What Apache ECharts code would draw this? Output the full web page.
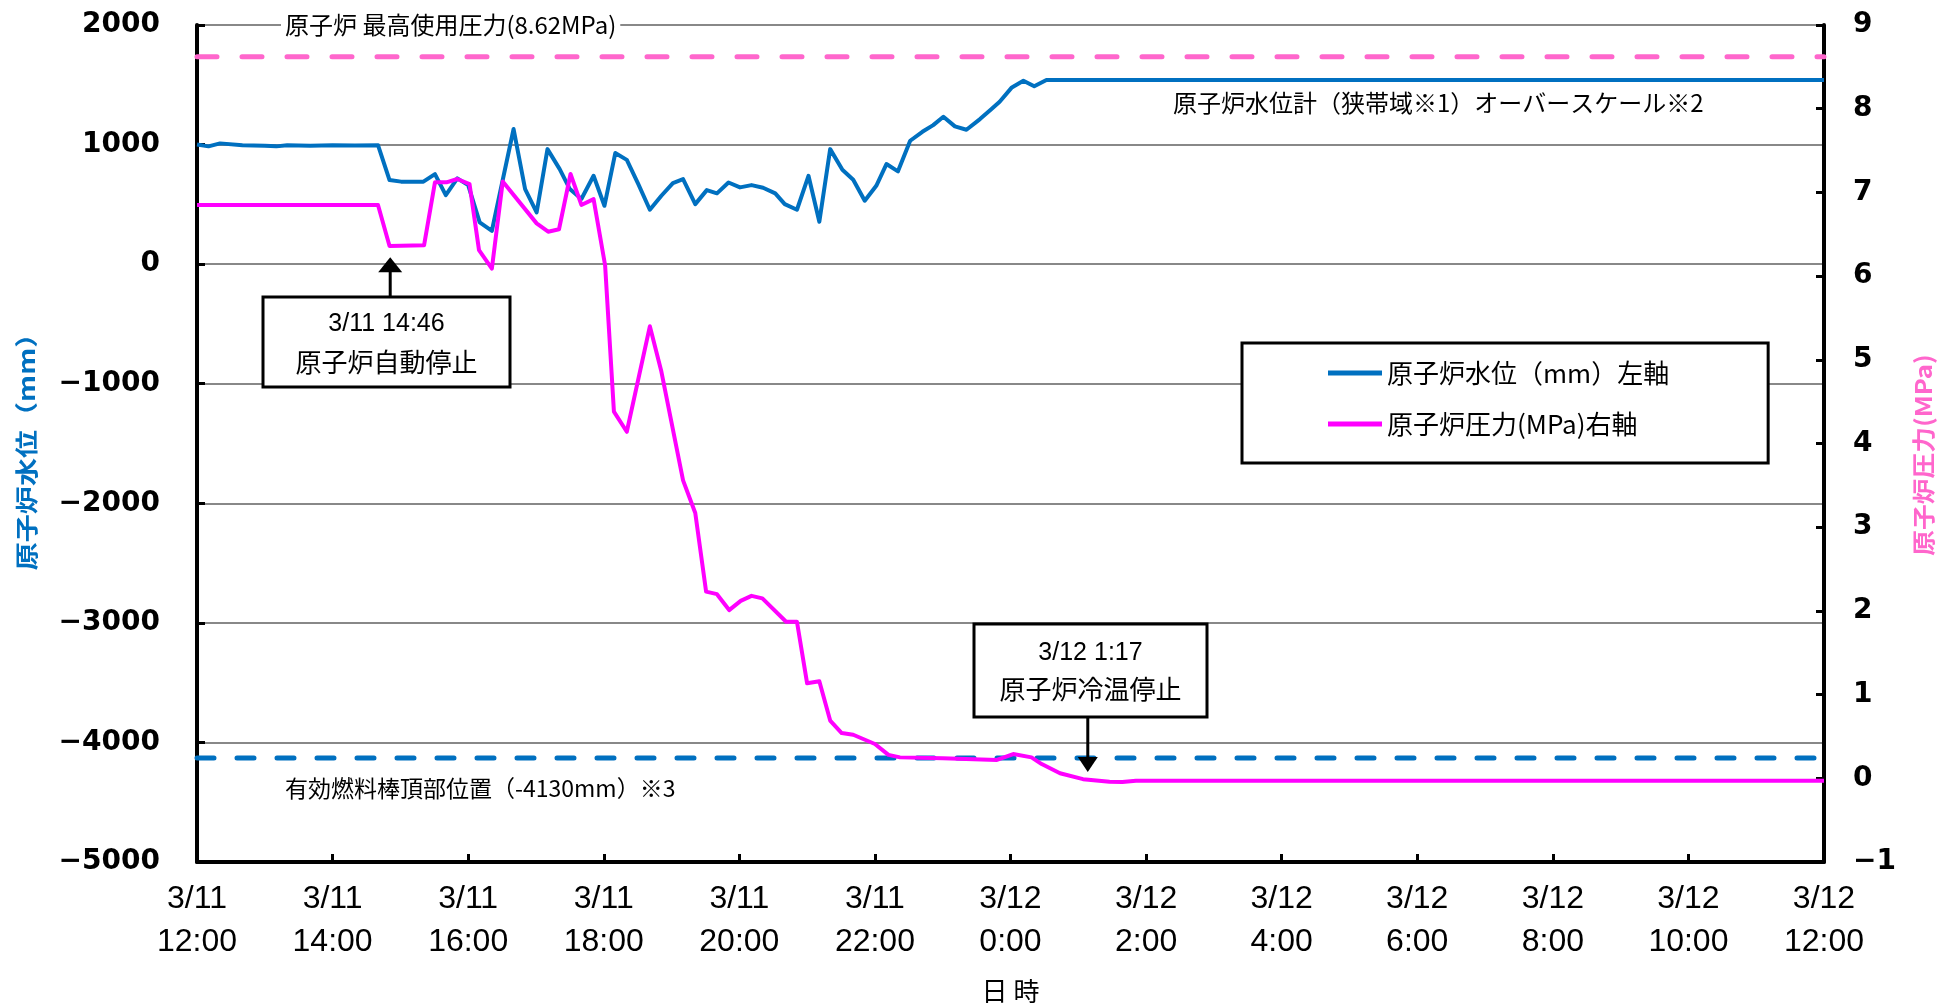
<!DOCTYPE html>
<html>
<head>
<meta charset="utf-8">
<script src="https://cdn.jsdelivr.net/npm/echarts@6/dist/echarts.min.js"></script>
<style>
html,body{margin:0;padding:0;background:#fff;}
#chart{width:1942px;height:1006px;}
</style>
</head>
<body>
<div id="chart"></div>
<script>
// ---- data (hours since 3/11 12:00) ----
const levelHours = [0, 0.17, 0.34, 0.67, 1.0, 1.17, 1.33, 1.67, 2.0, 2.33, 2.67, 2.84, 3.01, 3.17, 3.34, 3.51, 3.67, 3.84, 4.00, 4.17, 4.35, 4.67, 4.84, 5.01, 5.17, 5.35, 5.50, 5.67, 5.85, 6.01, 6.17, 6.34, 6.51, 6.68, 6.85, 7.02, 7.17, 7.35, 7.52, 7.67, 7.84, 8.01, 8.18, 8.35, 8.53, 8.67, 8.85, 9.02, 9.18, 9.34, 9.52, 9.68, 9.85, 10.02, 10.17, 10.34, 10.52, 10.70, 10.86, 11.01, 11.18, 11.35, 11.55, 11.72, 11.84, 12.02, 12.19, 12.35, 12.53, 24];
const levelMM = [1000, 985, 1010, 995, 990, 985, 995, 990, 995, 992, 995, 703, 690, 690, 690, 753, 577, 717, 661, 349, 279, 1130, 628, 432, 962, 795, 628, 545, 739, 488, 929, 872, 669, 455, 572, 678, 711, 502, 619, 592, 683, 642, 661, 639, 592, 502, 455, 739, 354, 962, 789, 706, 530, 655, 837, 776, 1032, 1107, 1163, 1233, 1152, 1124, 1213, 1297, 1358, 1478, 1534, 1487, 1540, 1540];

const pressureHours = [0, 0.5, 1.0, 1.5, 2.0, 2.67, 2.84, 3.35, 3.51, 3.68, 3.84, 4.02, 4.16, 4.35, 4.51, 5.01, 5.18, 5.34, 5.51, 5.67, 5.85, 6.02, 6.15, 6.34, 6.68, 6.85, 7.17, 7.35, 7.51, 7.67, 7.85, 8.02, 8.18, 8.34, 8.69, 8.85, 9.00, 9.18, 9.34, 9.51, 9.68, 10.0, 10.20, 10.37, 11.0, 11.8, 12.04, 12.31, 12.46, 12.73, 13.07, 13.46, 13.65, 13.85, 16, 20, 24];
const pressureMPa = [6.85, 6.85, 6.85, 6.85, 6.85, 6.85, 6.36, 6.37, 7.12, 7.12, 7.16, 7.10, 6.31, 6.09, 7.13, 6.63, 6.53, 6.56, 7.22, 6.85, 6.92, 6.13, 4.38, 4.14, 5.40, 4.86, 3.56, 3.17, 2.23, 2.20, 2.01, 2.12, 2.18, 2.15, 1.87, 1.87, 1.135, 1.16, 0.69, 0.54, 0.52, 0.41, 0.28, 0.25, 0.24, 0.22, 0.29, 0.25, 0.17, 0.06, -0.01, -0.04, -0.045, -0.03, -0.03, -0.03, -0.03];

const maxPressureMPa = 8.62;      // 原子炉 最高使用圧力
const fuelTopMM = -4130;          // 有効燃料棒頂部位置
const xTickHours = [0, 24, 2];    // min, max, interval
const leftTicks = [-5000, 2000, 1000];
const rightTicks = [-1, 9, 1];

const levelName = '原子炉水位（mm）左軸';
const pressureName = '原子炉圧力(MPa)右軸';

const annotations = [
  {hour: 2.85, line1: '3/11 14:46', line2: '原子炉自動停止'},
  {hour: 13.14, line1: '3/12 1:17', line2: '原子炉冷温停止'}
];

const zip = (a, b) => a.map((v, i) => [v, b[i]]);
const minusFmt = v => v < 0 ? '\u2212' + Math.abs(v) : String(v);
const CJK = '"Noto Sans CJK JP", "Noto Sans CJK SC", sans-serif';

const chart = echarts.init(document.getElementById('chart'), null, {renderer: 'canvas'});

const option = {
  backgroundColor: '#fff',
  animation: false,
  grid: {left: 197, right: 118, top: 25, bottom: 144, containLabel: false},
  legend: {
    data: [levelName, pressureName],
    orient: 'vertical',
    left: 1242, top: 343,
    padding: [17, 99, 26, 86],
    itemGap: 25,
    itemWidth: 54, itemHeight: 5,
    icon: 'rect',
    backgroundColor: '#fff',
    borderColor: '#000', borderWidth: 3,
    textStyle: {fontFamily: CJK, fontSize: 26, color: '#000'},
    z: 50
  },
  xAxis: {
    type: 'value',
    min: xTickHours[0], max: xTickHours[1], interval: xTickHours[2],
    axisLine: {show: true, onZero: false, lineStyle: {color: '#000', width: 4}},
    axisTick: {show: true, inside: true, length: 8, lineStyle: {color: '#000', width: 3}},
    splitLine: {show: false},
    axisLabel: {
      margin: 16,
      fontFamily: '"Liberation Sans Narrow", "Liberation Sans", sans-serif',
      fontSize: 32, lineHeight: 43, color: '#000',
      formatter: v => {
        const day = v < 12 ? '3/11' : '3/12';
        const hr = (12 + v) % 24;
        return day + '\n' + hr + ':00';
      }
    }
  },
  yAxis: [
    {
      type: 'value', position: 'left',
      min: leftTicks[0], max: leftTicks[1], interval: leftTicks[2],
      axisLine: {show: true, onZero: false, lineStyle: {color: '#000', width: 4}},
      axisTick: {show: true, inside: true, length: 8, lineStyle: {color: '#000', width: 3}},
      splitLine: {show: true, lineStyle: {color: '#888', width: 2}},
      axisLabel: {margin: 37, fontFamily: '"DejaVu Sans", sans-serif', fontWeight: 'bold', fontSize: 28, color: '#000', formatter: minusFmt}
    },
    {
      type: 'value', position: 'right',
      min: rightTicks[0], max: rightTicks[1], interval: rightTicks[2],
      axisLine: {show: true, onZero: false, lineStyle: {color: '#000', width: 4}},
      axisTick: {show: true, inside: true, length: 8, lineStyle: {color: '#000', width: 3}},
      splitLine: {show: false},
      axisLabel: {margin: 29, fontFamily: '"DejaVu Sans", sans-serif', fontWeight: 'bold', fontSize: 28, color: '#000', formatter: minusFmt}
    }
  ],
  series: [
    {
      name: 'maxPressure', type: 'line', yAxisIndex: 1, symbol: 'none', silent: true,
      data: [[xTickHours[0], maxPressureMPa], [xTickHours[1], maxPressureMPa]],
      lineStyle: {color: '#FF66CC', width: 5, type: [20, 25], cap: 'round'}, z: 3
    },
    {
      name: 'fuelTop', type: 'line', yAxisIndex: 0, symbol: 'none', silent: true,
      data: [[xTickHours[0], fuelTopMM], [xTickHours[1], fuelTopMM]],
      lineStyle: {color: '#0070C0', width: 5, type: [17, 23], cap: 'round'}, z: 3
    },
    {
      name: levelName, type: 'line', yAxisIndex: 0, symbol: 'none',
      data: zip(levelHours, levelMM),
      itemStyle: {color: '#0070C0'},
      lineStyle: {color: '#0070C0', width: 4, join: 'round'}, z: 4
    },
    {
      name: pressureName, type: 'line', yAxisIndex: 1, symbol: 'none',
      data: zip(pressureHours, pressureMPa),
      itemStyle: {color: '#FF00FF'},
      lineStyle: {color: '#FF00FF', width: 4, join: 'round'}, z: 5
    }
  ]
};
chart.setOption(option);

// ---- annotations / titles (positions derived from axes) ----
const px = v => chart.convertToPixel({xAxisIndex: 0}, v);
const pyL = v => chart.convertToPixel({yAxisIndex: 0}, v);
const gLeft = px(xTickHours[0]), gRight = px(xTickHours[1]);
const gBottom = pyL(leftTicks[0]);

const g = [];
// axis titles
g.push({type: 'text', x: 26, y: 445, rotation: Math.PI / 2, scaleX: 1.22, z: 60,
  style: {text: '原子炉水位（mm）', fontFamily: CJK, fontWeight: 'bold', fontSize: 23, fill: '#0070C0', align: 'center', verticalAlign: 'middle'}});
g.push({type: 'text', x: 1923, y: 455, rotation: Math.PI / 2, scaleX: 1.12, z: 60,
  style: {text: '原子炉圧力(MPa)', fontFamily: CJK, fontWeight: 'bold', fontSize: 23, fill: '#FF66CC', align: 'center', verticalAlign: 'middle'}});
g.push({type: 'text', x: (gLeft + gRight) / 2, y: gBottom + 129, z: 60,
  style: {text: '日 時', fontFamily: CJK, fontSize: 26, fill: '#000', align: 'center', verticalAlign: 'middle'}});

// line labels
g.push({type: 'text', x: gLeft + 84, y: pyL(leftTicks[1]), z: 60,
  style: {text: '原子炉 最高使用圧力(8.62MPa)', fontFamily: CJK, fontSize: 24, fill: '#000', align: 'left', verticalAlign: 'middle', backgroundColor: '#fff', padding: [2, 4]}});
g.push({type: 'text', x: 1173, y: pyL(1540) + 23, z: 60,
  style: {text: '原子炉水位計（狭帯域※1）オーバースケール※2', fontFamily: CJK, fontSize: 24, fill: '#000', align: 'left', verticalAlign: 'middle'}});
g.push({type: 'text', x: gLeft + 88, y: pyL(fuelTopMM) + 30, z: 60,
  style: {text: '有効燃料棒頂部位置（-4130mm）※3', fontFamily: CJK, fontSize: 23, fill: '#000', align: 'left', verticalAlign: 'middle'}});

// event boxes
const boxes = [
  {x: 263, y: 297, w: 247, h: 90, l1: 27, l2: 65, up: true},
  {x: 974, y: 624, w: 233, h: 93, l1: 29, l2: 65, up: false}
];
annotations.forEach((a, i) => {
  const b = boxes[i];
  const cx = b.x + b.w / 2;
  g.push({type: 'rect', z: 70, shape: {x: b.x, y: b.y, width: b.w, height: b.h},
    style: {fill: '#fff', stroke: '#000', lineWidth: 3}});
  g.push({type: 'text', z: 71, x: cx, y: b.y + b.l1,
    style: {text: a.line1, fontFamily: '"Liberation Sans", sans-serif', fontSize: 25, fill: '#000', align: 'center', verticalAlign: 'middle'}});
  g.push({type: 'text', z: 71, x: cx, y: b.y + b.l2,
    style: {text: a.line2, fontFamily: CJK, fontSize: 26, fill: '#000', align: 'center', verticalAlign: 'middle'}});
  const ax = px(a.hour);
  if (b.up) {
    const tip = pyL(0) - 7;
    g.push({type: 'line', z: 71, shape: {x1: ax, y1: b.y, x2: ax, y2: tip + 12}, style: {stroke: '#000', lineWidth: 3}});
    g.push({type: 'polygon', z: 71, shape: {points: [[ax, tip], [ax - 12, tip + 15], [ax + 12, tip + 15]]}, style: {fill: '#000'}});
  } else {
    const tip = b.y + b.h + 55;
    g.push({type: 'line', z: 71, shape: {x1: ax, y1: b.y + b.h, x2: ax, y2: tip - 12}, style: {stroke: '#000', lineWidth: 3}});
    g.push({type: 'polygon', z: 71, shape: {points: [[ax, tip], [ax - 10, tip - 15], [ax + 10, tip - 15]]}, style: {fill: '#000'}});
  }
});

chart.setOption({graphic: g});
</script>
</body>
</html>
